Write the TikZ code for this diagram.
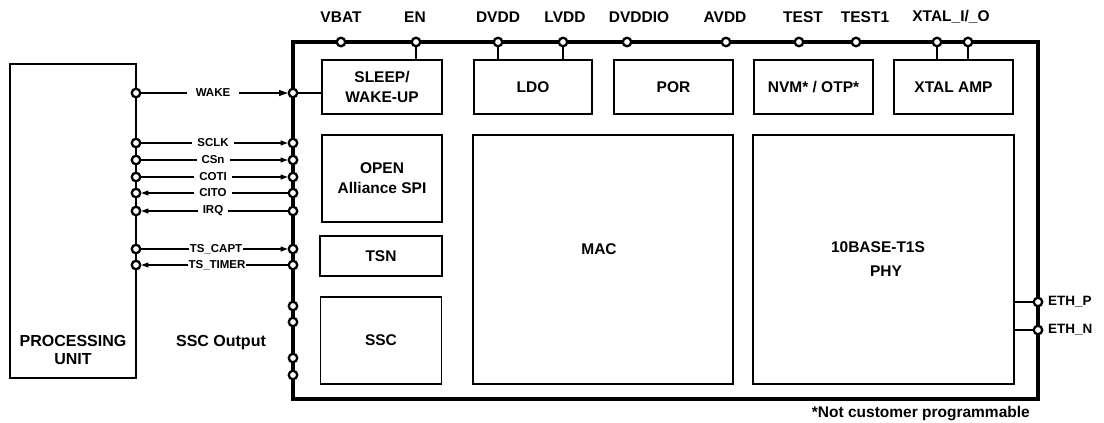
\documentclass[tikz,border=0pt]{standalone}
\usepackage{fontspec}
\setmainfont{Liberation Sans}
\usetikzlibrary{arrows.meta}
\begin{document}
\begin{tikzpicture}[x=1pt,y=-1pt,
  pin/.style={circle,draw,fill=white,line width=2.3pt,inner sep=0pt,minimum size=8.5pt},
  block/.style={draw,line width=1.7pt,align=center,inner sep=0pt,font=\fontsize{15.5}{20}\selectfont\bfseries},
  toplbl/.style={font=\fontsize{15.5}{18}\selectfont\bfseries,inner sep=0pt},
  sig/.style={font=\fontsize{11.5}{13}\selectfont\bfseries,fill=white,inner ysep=1pt,inner xsep=5pt},
  sigline/.style={line width=1.1pt},
  arr/.style={sigline,-{Triangle[length=7pt,width=5pt]}},
  wire/.style={line width=1.1pt}]
\useasboundingbox (0,0) rectangle (1104,423);
% chip outline
\node[draw,line width=3.6pt,minimum width=745pt,minimum height=357pt,inner sep=0pt] (chip) at (665.5,220.5) {};
% processing unit
\node[draw,line width=1.7pt,minimum width=126pt,minimum height=314pt,inner sep=0pt] (pu) at (73,221) {};
\node[align=center,font=\fontsize{16}{18}\selectfont\bfseries] (putext) at (73,350) {PROCESSING\\UNIT};
\node[font=\fontsize{16}{18}\selectfont\bfseries] (sscout) at (221,343) {SSC Output};
% blocks
\node[block,minimum width=120pt,minimum height=54pt] (sleep) at (382,87) {SLEEP/\\WAKE-UP};
\node[block,minimum width=118pt,minimum height=54pt] (ldo) at (533,87) {LDO};
\node[block,minimum width=119pt,minimum height=54pt] (por) at (673.5,87) {POR};
\node[block,minimum width=119pt,minimum height=54pt] (nvm) at (813.5,87) {NVM* / OTP*};
\node[block,minimum width=119pt,minimum height=54pt] (xtal) at (953.5,87) {XTAL AMP};
\node[block,minimum width=120pt,minimum height=87pt] (spi) at (382,178.5) {OPEN\\Alliance SPI};
\node[block,minimum width=122pt,minimum height=40pt] (tsn) at (381,256) {TSN};
\node[block,minimum width=121pt,minimum height=87pt] (ssc) at (381,340.5) {SSC};
\node[block,minimum width=260pt,minimum height=249pt] (mac) at (603,259.5) {};
\node[block,minimum width=261pt,minimum height=249pt] (phy) at (883.5,259.5) {};
\node[font=\fontsize{15.5}{18}\selectfont\bfseries] (mact) at (599,249) {MAC};
\node[font=\fontsize{15.5}{18}\selectfont\bfseries] (phyt1) at (878,247) {10BASE-T1S};
\node[font=\fontsize{15.5}{18}\selectfont\bfseries] (phyt2) at (886,271) {PHY};
% top pins
\foreach \n/\x in {vbat/341,en/416,dvdd/498,lvdd/563,dvddio/627,avdd/726,test/799,testa/856,xa/937,xb/968}
  \node[pin] (\n) at (\x,42) {};
\node[toplbl] (lvbat) at (341,17) {VBAT};
\node[toplbl] (len) at (415,17) {EN};
\node[toplbl] (ldvdd) at (498,17) {DVDD};
\node[toplbl] (llvdd) at (565,17) {LVDD};
\node[toplbl] (ldvddio) at (639,17) {DVDDIO};
\node[toplbl] (lavdd) at (725,17) {AVDD};
\node[toplbl] (ltest) at (803,17) {TEST};
\node[toplbl] (ltesta) at (865,17) {TEST1};
\node[toplbl] (lxtal) at (951,17) {XTAL\_I/\_O};
\draw[wire] (en) -- (en |- sleep.north);
\draw[wire] (dvdd) -- (dvdd |- ldo.north);
\draw[wire] (lvdd) -- (lvdd |- ldo.north);
\draw[wire] (xa) -- (xa |- xtal.north);
\draw[wire] (xb) -- (xb |- xtal.north);
% left pins
\foreach \n/\y in {wake/93,sclk/143,csn/160,coti/177,cito/193,irq/211,tscapt/249,tstimer/265}{
  \node[pin] (p\n) at (136,\y) {};
  \node[pin] (c\n) at (293,\y) {};
}
\foreach \n/\y in {s1/306,s2/322,s3/358,s4/375}
  \node[pin] (\n) at (293,\y) {};
\draw[wire] (cwake) -- (cwake -| sleep.west);
\draw[arr,-{Triangle[length=8.5pt,width=6pt]}] (pwake) -- (cwake);
\draw[arr] (psclk) -- (csclk);
\draw[arr] (pcsn) -- (ccsn);
\draw[arr] (pcoti) -- (ccoti);
\draw[arr] (ccito) -- (pcito);
\draw[arr] (cirq) -- (pirq);
\draw[arr] (ptscapt) -- (ctscapt);
\draw[arr] (ctstimer) -- (ptstimer);
\node[sig,inner xsep=9pt] (lwake) at (213,93) {WAKE};
\node[sig] (lsclk) at (213,143) {SCLK};
\node[sig] (lcsn) at (213,160) {CSn};
\node[sig] (lcoti) at (213,177) {COTI};
\node[sig] (lcito) at (213,193) {CITO};
\node[sig] (lirq) at (213,211) {IRQ};
\node[sig,inner xsep=1pt] (ltscapt) at (216,249) {TS\_CAPT};
\node[sig,inner xsep=1pt] (ltstimer) at (217,265) {TS\_TIMER};
% ethernet pins
\node[pin] (ethp) at (1038,302) {};
\node[pin] (ethn) at (1038,330) {};
\draw[wire] (ethp) -- (ethp -| phy.east);
\draw[wire] (ethn) -- (ethn -| phy.east);
\node[font=\fontsize{13.5}{15}\selectfont\bfseries,anchor=west,inner sep=0pt] (lethp) at (1048,302) {ETH\_P};
\node[font=\fontsize{13.5}{15}\selectfont\bfseries,anchor=west,inner sep=0pt] (lethn) at (1048,330) {ETH\_N};
% footnote
\node[font=\fontsize{15.5}{18}\selectfont\bfseries,anchor=east,inner sep=0pt] (foot) at (1030,414) {*Not customer programmable};
\end{tikzpicture}
\end{document}
